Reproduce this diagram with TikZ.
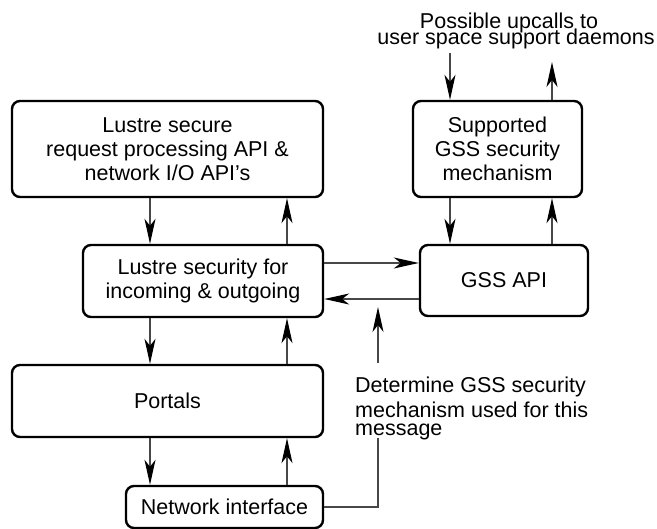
\documentclass[tikz,border=0pt]{standalone}
\usepackage{fontspec}
\setmainfont{Liberation Sans}
\usetikzlibrary{arrows.meta}
\tikzset{
  txt/.style={font={\fontsize{21.5}{24}\selectfont\lineskiplimit=-50pt}},
  box/.style={txt, draw=black, line width=2.4pt, rounded corners=8pt, align=center, inner sep=0pt},
  conn/.style={draw=black!72, line width=1.3pt},
  arr/.style={conn, -{Stealth[length=25pt,width=11pt,inset=7pt,color=black]}},
}
\begin{document}
\begin{tikzpicture}[x=1pt,y=-1pt]
\path[use as bounding box] (0,0) rectangle (657,529);
% boxes
\node[box, minimum width=311pt, minimum height=96pt] (A) at (167.5,149) {Lustre secure\\request processing API \&\\network I/O API’s};
\node[box, minimum width=240pt, minimum height=72pt] (B) at (203,281) {Lustre security for\\incoming \& outgoing};
\node[box, minimum width=311pt, minimum height=72pt] (C) at (167.5,401) {Portals};
\node[box, minimum width=197pt, minimum height=42pt] (D) at (224.5,507) {Network interface};
\node[box, minimum width=169pt, minimum height=96pt] (E) at (497.5,149) {Supported\\GSS security\\mechanism};
\node[box, minimum width=168pt, minimum height=71pt] (F) at (504,280.5) {GSS API};
% free texts
\node[txt, align=center, inner sep=0pt, anchor=north, font={\fontsize{21.5}{16}\selectfont\lineskiplimit=-50pt}] (U) at (516,12.9) {Possible upcalls to\hspace*{14pt}\\user space support daemons};
\node[txt, align=left, inner sep=0pt, anchor=north west, font={\fontsize{21.5}{25}\selectfont\lineskiplimit=-50pt}] (T) at (355,376.3) {Determine GSS security\\mechanism used for this\\[-6.7pt]message};
% coordinates for free ends
\coordinate (inT) at (450,53);
\coordinate (outT) at (552,62);
\coordinate (lowend) at (378,438);
\coordinate (upstart) at (378,363);
\coordinate (tip) at (378,307);
% vertical stack arrows
\draw[arr] (150,0 |- A.south) -- (150,0 |- B.north);
\draw[arr] (287,0 |- B.north) -- (287,0 |- A.south);
\draw[arr] (150,0 |- B.south) -- (150,0 |- C.north);
\draw[arr] (287,0 |- C.north) -- (287,0 |- B.south);
\draw[arr] (150,0 |- C.south) -- (150,0 |- D.north);
\draw[arr] (287,0 |- D.north) -- (287,0 |- C.south);
% GSS side
\draw[arr] (inT) -- (inT |- E.north);
\draw[arr] (outT |- E.north) -- (outT);
\draw[arr] (450,0 |- E.south) -- (450,0 |- F.north);
\draw[arr] (552,0 |- F.north) -- (552,0 |- E.south);
% horizontal
\draw[arr] (B.east |- 0,263) -- (F.west |- 0,263);
\draw[arr] (F.west |- 0,299) -- (B.east |- 0,299);
% network interface to determine
\draw[conn] (D.east) -| (lowend);
\draw[arr] (upstart) -- (tip);
\end{tikzpicture}
\end{document}
